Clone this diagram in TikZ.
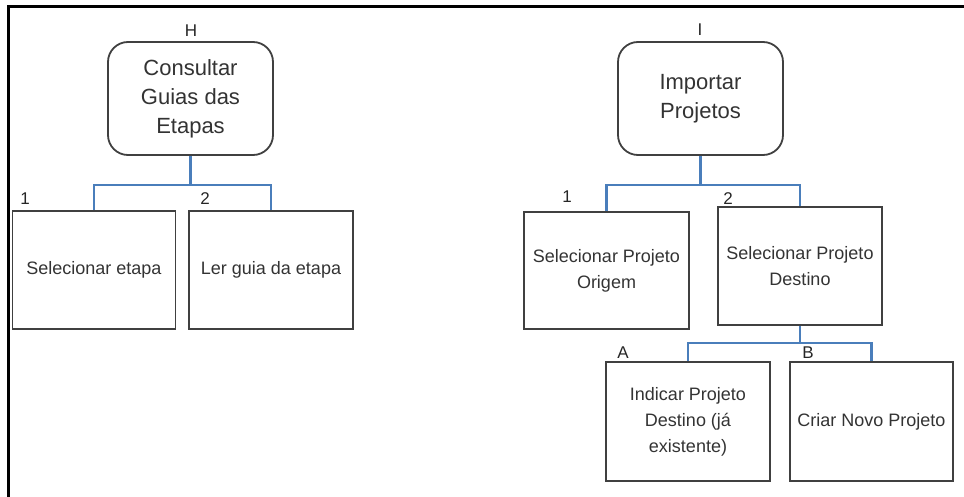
\documentclass[tikz,border=0pt]{standalone}
\usepackage{fontspec}
\setmainfont{Liberation Sans}
\usetikzlibrary{positioning}
\definecolor{azulLiga}{RGB}{74,126,187}
\definecolor{cinzaTexto}{RGB}{51,51,51}
\tikzset{
	topo/.style={draw=black!75, line width=1.8pt, rounded corners=20pt, minimum width=165pt, minimum height=113pt, align=center, text=cinzaTexto, font=\fontsize{22}{29}\selectfont, inner sep=0pt},
	tarefa/.style={draw=black!75, line width=1.8pt, minimum width=163pt, minimum height=118pt, align=center, text=cinzaTexto, font=\fontsize{18}{26}\selectfont, inner sep=0pt},
	liga/.style={draw=azulLiga, line width=2.6pt},
	rotulo/.style={text=black!85, font=\fontsize{17}{19}\selectfont, inner sep=0pt},
}
\begin{document}
\begin{tikzpicture}[x=1pt,y=-1pt]
		\useasboundingbox (0,0) rectangle (964,497);
		\draw[line width=3pt] (8,497) -- (8,7) -- (964,7);
		
		% arvore H
		\node[topo] (consultar) at (190.5,98.5) {Consultar\\Guias das\\Etapas};
		\node[tarefa] (selEtapa) at (94,270) {Selecionar etapa};
		\node[tarefa, minimum width=164pt] (lerGuia) at (271,270) {Ler guia da etapa};
		\draw[liga] (consultar.south) -- ++(0,29) coordinate (busH);
		\draw[liga] (selEtapa.north) |- (busH) -| (lerGuia.north);
		\node[rotulo] (rotH) at (191,31) {H};
		\node[rotulo] (rotH1) at (25,199) {1};
		\node[rotulo] (rotH2) at (205,199) {2};
		
		% arvore I
		\node[topo] (importar) at (700.5,98.5) {Importar\\Projetos};
		\node[tarefa, minimum width=165pt, minimum height=117pt] (selOrigem) at (606.5,270.5) {Selecionar Projeto\\Origem};
		\node[tarefa, minimum width=164pt] (selDestino) at (800,266) {Selecionar Projeto\\Destino};
		\draw[liga] (importar.south) -- ++(0,29) coordinate (busI);
		\draw[liga] (selOrigem.north) |- (busI) -| (selDestino.north);
		\node[rotulo] (rotI) at (700,30) {I};
		\node[rotulo] (rotI1) at (567,197) {1};
		\node[rotulo] (rotI2) at (728,199) {2};
		
		\node[tarefa, minimum width=164pt, minimum height=119pt] (indicar) at (688,421.5) {Indicar Projeto\\Destino (já\\existente)};
		\node[tarefa, minimum height=119pt] (criar) at (871.5,421.5) {Criar Novo Projeto};
		\draw[liga] (selDestino.south) -- ++(0,17) coordinate (busD);
		\draw[liga] (indicar.north) |- (busD) -| (criar.north);
		\node[rotulo] (rotA) at (623,353) {A};
		\node[rotulo] (rotB) at (808,353) {B};
\end{tikzpicture}
\end{document}
